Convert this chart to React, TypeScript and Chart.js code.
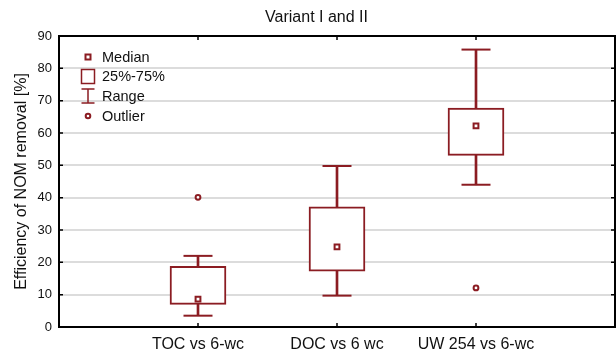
import { useEffect, useRef } from 'react';
import { Chart, registerables } from 'chart.js';

Chart.register(...registerables);

// Groups on the x axis (drawn at positions 1..3 of a 0..4 axis)
const categories = ['TOC vs 6-wc', 'DOC vs 6 wc', 'UW 254 vs 6-wc'];
const positions = [1, 2, 3];

// Box-plot statistics per group, in %
const rangeMin = [3.5, 9.7, 44.0];
const rangeMax = [22.0, 49.8, 85.8];
const q1 = [7.0, 17.3, 53.1];
const q3 = [18.8, 37.2, 67.7];
const medians = [8.6, 24.8, 62.2];

// Outliers: group position and value
const outlierPositions = [1, 3];
const outlierValues = [40.1, 12.1];

// Value axis
const yMin = 0;
const yMax = 90;
const yStep = 10;

const legendLabels = ['Median', '25%-75%', 'Range', 'Outlier'];

const RED = '#8b1c22';
const FONT = "'Liberation Sans', Arial, sans-serif";

// Black frame around the plot with short inward ticks on all four sides
const framePlugin = {
  id: 'frame',
  afterDatasetsDraw(chart: any) {
    const { ctx, chartArea } = chart;
    const { left, right, top, bottom } = chartArea;
    const ys = chart.scales.y;
    const xs = chart.scales.x;
    ctx.save();
    ctx.strokeStyle = '#000';
    ctx.lineWidth = 2;
    ctx.strokeRect(left, top, right - left, bottom - top);
    ctx.lineWidth = 1.5;
    ctx.beginPath();
    for (const t of ys.ticks) {
      const py = ys.getPixelForValue(t.value);
      ctx.moveTo(left, py);
      ctx.lineTo(left + 4, py);
      ctx.moveTo(right, py);
      ctx.lineTo(right - 4, py);
    }
    for (const p of positions) {
      const px = xs.getPixelForValue(p);
      ctx.moveTo(px, top);
      ctx.lineTo(px, top + 4);
      ctx.moveTo(px, bottom);
      ctx.lineTo(px, bottom - 4);
    }
    ctx.stroke();
    ctx.restore();
  },
};

// Key explaining the box-plot symbols, in the upper-left corner of the plot
const keyPlugin = {
  id: 'boxKey',
  afterDraw(chart: any) {
    const { ctx, chartArea } = chart;
    const cx = chartArea.left + 29;
    const tx = chartArea.left + 43;
    const rows = [21, 40.5, 60, 80].map((d) => chartArea.top + d);
    ctx.save();
    ctx.strokeStyle = RED;
    ctx.fillStyle = '#fff';

    // median marker
    ctx.lineWidth = 2;
    ctx.fillRect(cx - 2.5, rows[0] - 2.5, 5, 5);
    ctx.strokeRect(cx - 2.5, rows[0] - 2.5, 5, 5);

    // quartile box
    ctx.lineWidth = 1.5;
    ctx.strokeRect(cx - 6.5, rows[1] - 7, 13, 14);

    // range whisker
    ctx.beginPath();
    ctx.moveTo(cx - 6.5, rows[2] - 7);
    ctx.lineTo(cx + 6.5, rows[2] - 7);
    ctx.moveTo(cx - 6.5, rows[2] + 7);
    ctx.lineTo(cx + 6.5, rows[2] + 7);
    ctx.moveTo(cx, rows[2] - 7);
    ctx.lineTo(cx, rows[2] + 7);
    ctx.stroke();

    // outlier marker
    ctx.lineWidth = 2;
    ctx.beginPath();
    ctx.arc(cx, rows[3], 2.3, 0, Math.PI * 2);
    ctx.fill();
    ctx.stroke();

    ctx.fillStyle = '#111';
    ctx.font = `14.5px ${FONT}`;
    ctx.textAlign = 'left';
    ctx.textBaseline = 'middle';
    legendLabels.forEach((label, i) => ctx.fillText(label, tx, rows[i] + 0.5));
    ctx.restore();
  },
};

export default function App() {
  const canvasRef = useRef<HTMLCanvasElement | null>(null);

  useEffect(() => {
    const canvas = canvasRef.current;
    if (!canvas) return;

    const stems = positions.map((x, i) => ({ x, y: [rangeMin[i], rangeMax[i]] }));
    const boxes = positions.map((x, i) => ({ x, y: [q1[i], q3[i]] }));
    const caps = positions.flatMap((x, i) => [
      { x, y: rangeMin[i] },
      { x, y: rangeMax[i] },
    ]);
    const medianPts = positions.map((x, i) => ({ x, y: medians[i] }));
    const outlierPts = outlierPositions.map((x, i) => ({ x, y: outlierValues[i] }));

    const chart = new Chart(canvas, {
      type: 'bar',
      data: {
        datasets: [
          {
            type: 'bar',
            label: 'Range',
            data: stems as any,
            backgroundColor: RED,
            borderWidth: 0,
            barThickness: 2,
            grouped: false,
            order: 4,
          },
          {
            type: 'bar',
            label: '25%-75%',
            data: boxes as any,
            backgroundColor: '#ffffff',
            borderColor: RED,
            borderWidth: 2,
            borderSkipped: false,
            barThickness: 56,
            grouped: false,
            order: 3,
          },
          {
            type: 'scatter',
            label: 'Range caps',
            data: caps,
            pointStyle: 'line',
            radius: 14.5,
            borderColor: RED,
            borderWidth: 2,
            order: 2,
          } as any,
          {
            type: 'scatter',
            label: 'Median',
            data: medianPts,
            pointStyle: 'rect',
            radius: 3.4,
            backgroundColor: '#ffffff',
            borderColor: RED,
            borderWidth: 2,
            order: 1,
          } as any,
          {
            type: 'scatter',
            label: 'Outlier',
            data: outlierPts,
            pointStyle: 'circle',
            radius: 2.4,
            backgroundColor: '#ffffff',
            borderColor: RED,
            borderWidth: 2,
            order: 1,
          } as any,
        ],
      },
      options: {
        animation: false,
        responsive: false,
        maintainAspectRatio: false,
        events: [],
        layout: { autoPadding: false, padding: { left: 18, right: 1, top: 0, bottom: 0 } },
        plugins: {
          legend: { display: false },
          tooltip: { enabled: false },
          title: {
            display: true,
            text: 'Variant I and II',
            color: '#111',
            font: { family: FONT, size: 16, weight: 'normal', lineHeight: 1.2 },
            padding: { top: 8, bottom: 8.8 },
          },
        },
        scales: {
          x: {
            type: 'linear',
            min: 0,
            max: 4,
            offset: false,
            grid: { display: false, drawTicks: false },
            border: { display: false },
            ticks: {
              stepSize: 1,
              autoSkip: false,
              maxRotation: 0,
              padding: 8,
              color: '#111',
              font: { family: FONT, size: 16 },
              callback: (v: any) => {
                const i = positions.indexOf(Number(v));
                return i >= 0 ? categories[i] : '';
              },
            },
            afterFit: (s: any) => {
              s.height = 27;
              s.paddingLeft = 0;
              s.paddingRight = 0;
            },
          },
          y: {
            type: 'linear',
            min: yMin,
            max: yMax,
            grid: { color: '#dcdcdc', lineWidth: 2, drawTicks: false },
            border: { display: false },
            ticks: {
              stepSize: yStep,
              padding: 7,
              color: '#111',
              font: { family: FONT, size: 13 },
            },
            title: {
              display: true,
              text: 'Efficiency of NOM removal [%]',
              color: '#111',
              font: { family: FONT, size: 16, lineHeight: 1.2 },
              padding: { top: -5.6, bottom: 0 },
            },
            afterFit: (s: any) => {
              s.width = 41;
            },
          },
        },
      } as any,
      plugins: [framePlugin, keyPlugin],
    });

    return () => chart.destroy();
  }, []);

  return (
    <div style={{ position: 'fixed', left: 0, top: 0, width: 616, height: 354, background: '#fff' }}>
      <canvas ref={canvasRef} width={616} height={354} style={{ width: 616, height: 354, display: 'block' }} />
    </div>
  );
}
